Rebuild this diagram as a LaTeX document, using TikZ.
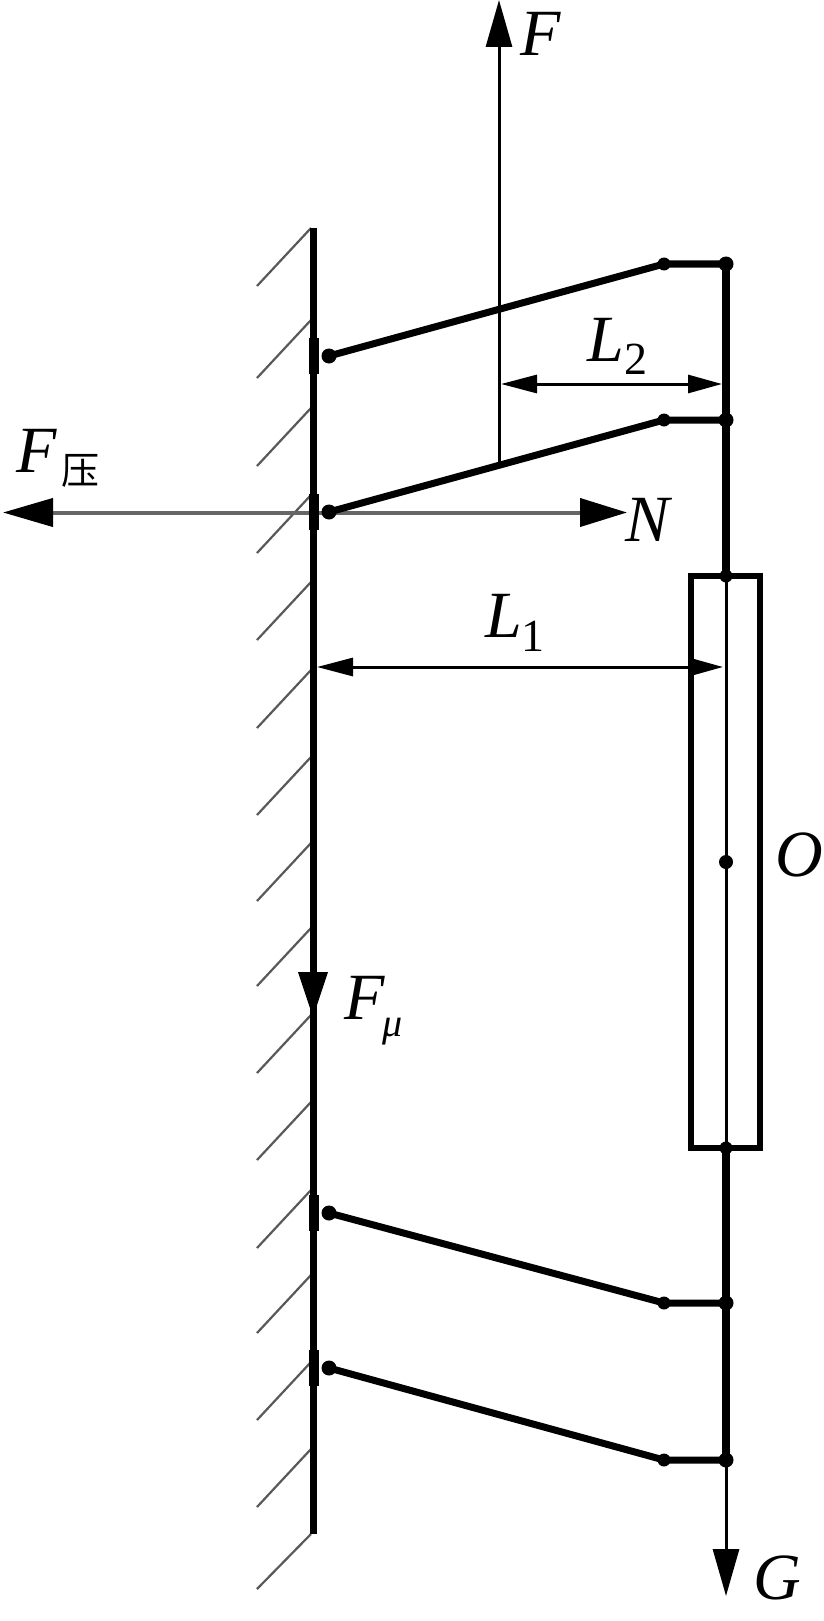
\documentclass[tikz,border=0pt]{standalone}
\usepackage{fontspec}
\setmainfont{Liberation Serif}
\newfontfamily\cjk{Noto Sans CJK SC}
\usetikzlibrary{arrows.meta}
\tikzset{
  x=1pt,y=-1pt,
  hatch/.style={line width=2.2pt,draw=black!65},
  wallline/.style={line width=7pt},
  rod/.style={line width=8pt},
  linkbar/.style={line width=7pt,line join=round},
  thin line/.style={line width=3pt},
  force/.style={line width=3pt,-{Triangle[length=47pt,width=26pt]}},
  forcegray/.style={line width=4pt,draw=black!60,{Triangle[length=50pt,width=28pt,color=black]}-{Triangle[length=47pt,width=28pt,color=black]}},
  dimen/.style={line width=3pt,{Triangle[length=36pt,width=18pt]}-{Triangle[length=34pt,width=18pt]}},
  joint/.style={circle,fill=black,inner sep=0pt,minimum size=15pt},
  smalljoint/.style={circle,fill=black,inner sep=0pt,minimum size=13pt},
  txt/.style={inner sep=0pt,font=\fontsize{66}{66}\selectfont\itshape},
  sub/.style={inner sep=0pt,font=\fontsize{46}{46}\selectfont},
  subit/.style={inner sep=0pt,font=\fontsize{40}{40}\selectfont\itshape},
}
\begin{document}
\begin{tikzpicture}
\useasboundingbox (0,0) rectangle (823,1621);
\fill[white] (0,0) rectangle (823,1621);
% hatching
\foreach \y in {228,320,408,495,582,670,757,843,928,1015,1102,1190,1275,1362,1449}
  \draw[hatch] (311,\y) -- ++(-54,58);
\draw[hatch] (311,1534) -- ++(-54,55);
% anchor coordinates
\coordinate (wallT) at (313,228);
\coordinate (wallB) at (313,1534);
\coordinate (rodT) at (726,264);
\coordinate (boxT) at (726,576);
\coordinate (boxB) at (726,1148);
\coordinate (rodB) at (726,1460);
\coordinate (Gtip) at (726,1596);
\coordinate (Ftip) at (499,0);
\coordinate (Fbase) at (499,466);
\coordinate (Ltip) at (3,512.5);
\coordinate (Rtip) at (627,512.5);
\coordinate (L2a) at (501,384);
\coordinate (L2b) at (722,384);
\coordinate (L1a) at (317,667);
\coordinate (L1b) at (723,667);
\coordinate (FmuT) at (313,968);
\coordinate (FmuB) at (313,1018);
% forces behind
\draw[forcegray] (Ltip) -- (Rtip);
\draw[force] (Fbase) -- (Ftip);
\draw[force] (rodB) -- (Gtip);
% wall
\draw[wallline] (wallT) -- (wallB);
\foreach \y in {356,512,1213,1368}
  \draw[line width=10pt] (314,\y-18) -- (314,\y+18);
\draw[-{Triangle[length=46pt,width=28pt]},line width=7pt] (FmuT) -- (FmuB);
% link nodes
\node[joint] (a1) at (329,356) {};
\node[smalljoint] (b1) at (664,264) {};
\node[joint] (c1) at (726,264) {};
\node[joint] (a2) at (329,512) {};
\node[smalljoint] (b2) at (664,420) {};
\node[joint] (c2) at (726,420) {};
\node[joint] (a3) at (329,1213) {};
\node[smalljoint] (b3) at (664,1303) {};
\node[joint] (c3) at (726,1303) {};
\node[joint] (a4) at (329,1368) {};
\node[smalljoint] (b4) at (664,1460) {};
\node[joint] (c4) at (726,1460) {};
\draw[linkbar] (a1.center) -- (b1.center) -- (c1.center);
\draw[linkbar] (a2.center) -- (b2.center) -- (c2.center);
\draw[linkbar] (a3.center) -- (b3.center) -- (c3.center);
\draw[linkbar] (a4.center) -- (b4.center) -- (c4.center);
% right rod and box
\draw[rod] (rodT) -- (boxT);
\draw[rod] (boxB) -- (rodB);
\draw[line width=6.5pt] (691,576) rectangle (760,1148);
\draw[thin line] (boxT) -- (boxB);
\node[smalljoint] (jT) at (726,576) {};
\node[smalljoint] (jB) at (726,1148) {};
\node[smalljoint,minimum size=14pt] (O) at (726,862) {};
% dimensions
\draw[dimen] (L2a) -- (L2b);
\draw[dimen] (L1a) -- (L1b);
% labels
\node[txt] (tF) at (541,34) {F};
\node[txt] (tFp) at (37,451) {F};
\node[inner sep=0pt,font=\cjk\fontsize{38}{38}\selectfont] (tya) at (80,471) {压};
\node[txt] (tN) at (648,520) {N};
\node[txt] (tL2) at (606,340) {L};
\node[sub] (t2) at (636,359) {2};
\node[txt] (tL1) at (504,616) {L};
\node[sub] (t1) at (533,636) {1};
\node[txt] (tO) at (799,855) {O};
\node[txt] (tFm) at (365,998) {F};
\node[subit] (tmu) at (393,1032) {μ};
\node[txt] (tG) at (777,1578) {G};
\end{tikzpicture}
\end{document}
